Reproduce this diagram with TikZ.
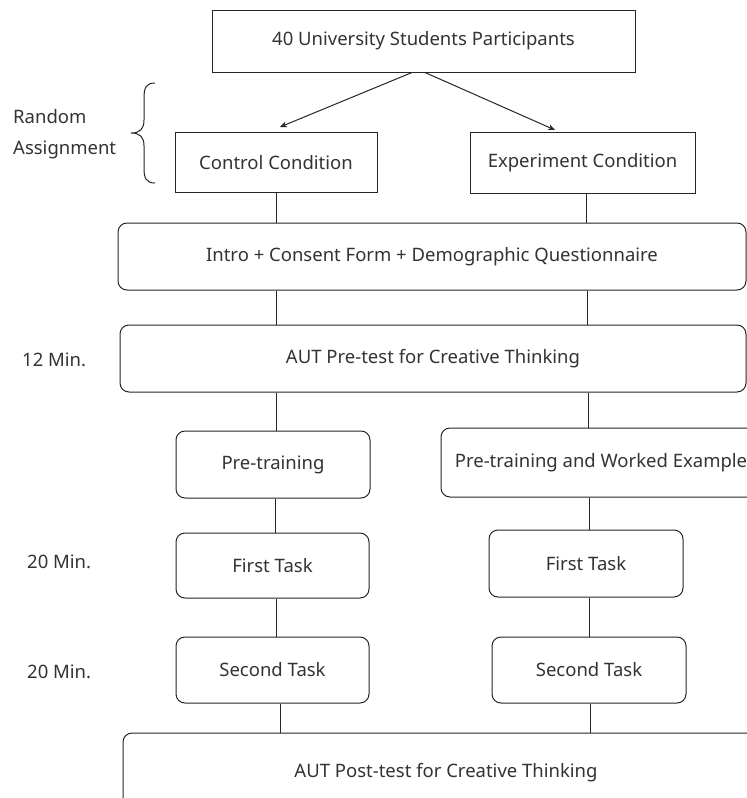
\documentclass[tikz,border=0pt]{standalone}
\usepackage{fontspec}
\setmainfont{Noto Sans}
\usetikzlibrary{arrows.meta}
\definecolor{ink}{HTML}{262626}
\definecolor{txt}{HTML}{333333}
\begin{document}
\begin{tikzpicture}[x=1pt,y=-1pt,
  every node/.style={font=\fontsize{18.5}{22}\selectfont, text=txt},
  sharpbox/.style={draw=ink, line width=1pt, inner sep=0pt, anchor=center},
  roundbox/.style={draw=ink, line width=1pt, rounded corners=9pt, inner sep=0pt, anchor=center},
  link/.style={draw=ink, line width=1pt},
  arr/.style={draw=ink, line width=1pt, -{Stealth[length=7pt,width=6pt]}},
  lbl/.style={anchor=base west, inner sep=0pt}]
\useasboundingbox (0,0) rectangle (747,798);
\clip (0,0) rectangle (747,798);
\fill[white] (0,0) rectangle (747,798);

\node[sharpbox, minimum width=423pt, minimum height=62pt] (top) at (423.5,41) {40 University Students Participants};
\node[sharpbox, minimum width=202pt, minimum height=60pt] (ctrl) at (276,162.5) {Control Condition};
\node[sharpbox, minimum width=225pt, minimum height=61pt] (exp) at (582.5,162.5) {Experiment Condition};

\node[roundbox, minimum width=628pt, minimum height=67pt] (intro) at (432,256.5) {Intro + Consent Form + Demographic Questionnaire};
\node[roundbox, minimum width=626pt, minimum height=67pt] (pre) at (433,358.5) {AUT Pre-test for Creative Thinking};

\node[roundbox, minimum width=194pt, minimum height=67pt] (ptL) at (273,464.5) {Pre-training};
\node[roundbox, minimum width=320pt, minimum height=69pt] (ptR) at (601,462.5) {Pre-training and Worked Example};

\node[roundbox, minimum width=193pt, minimum height=65pt] (ftL) at (272.5,565.5) {First Task};
\node[roundbox, minimum width=194pt, minimum height=67pt] (ftR) at (586,563.5) {First Task};

\node[roundbox, minimum width=193pt, minimum height=66pt] (stL) at (272.5,670) {Second Task};
\node[roundbox, minimum width=194pt, minimum height=66pt] (stR) at (589,670) {Second Task};

\node[roundbox, minimum width=646pt, minimum height=80pt] (post) at (446,773) {AUT Post-test for Creative Thinking};

% labels
\node[lbl] (ra1) at (13,123) {Random};
\node[lbl] (ra2) at (13,154) {Assignment};
\node[lbl] (m12) at (22,366) {12 Min.};
\node[lbl] (m20a) at (27,568) {20 Min.};
\node[lbl] (m20b) at (27,678) {20 Min.};

% brace
\draw[ink, line width=1pt] (155,83) .. controls (146,83) and (144,88) .. (144,98) -- (144,120)
  .. controls (144,129) and (140,133) .. (131,133)
  .. controls (140,133) and (144,137) .. (144,146) -- (144,168)
  .. controls (144,178) and (146,183) .. (155,183);

% arrows from top
\coordinate (aL) at (280,127);
\coordinate (aR) at (555,130);
\draw[arr] ([xshift=-11.5pt]top.south) -- (aL);
\draw[arr] ([xshift=1.5pt]top.south) -- (aR);

% connectors
\draw[link] (ctrl.south) -- (ctrl.south |- intro.north);
\draw[link] (exp.south -| 586,0) -- (intro.north -| 586,0);
\draw[link] (intro.south -| 276,0) -- (pre.north -| 276,0);
\draw[link] (intro.south -| 587,0) -- (pre.north -| 587,0);
\draw[link] (pre.south -| 276,0) -- (ptL.north -| 276,0);
\draw[link] (pre.south -| 588,0) -- (ptR.north -| 588,0);
\draw[link] (ptL.south -| 275,0) -- (ftL.north -| 275,0);
\draw[link] (ptR.south -| 589,0) -- (ftR.north -| 589,0);
\draw[link] (ftL.south -| 276,0) -- (stL.north -| 276,0);
\draw[link] (ftR.south -| 589,0) -- (stR.north -| 589,0);
\draw[link] (stL.south -| 280,0) -- (post.north -| 280,0);
\draw[link] (stR.south -| 590,0) -- (post.north -| 590,0);
\end{tikzpicture}
\end{document}
